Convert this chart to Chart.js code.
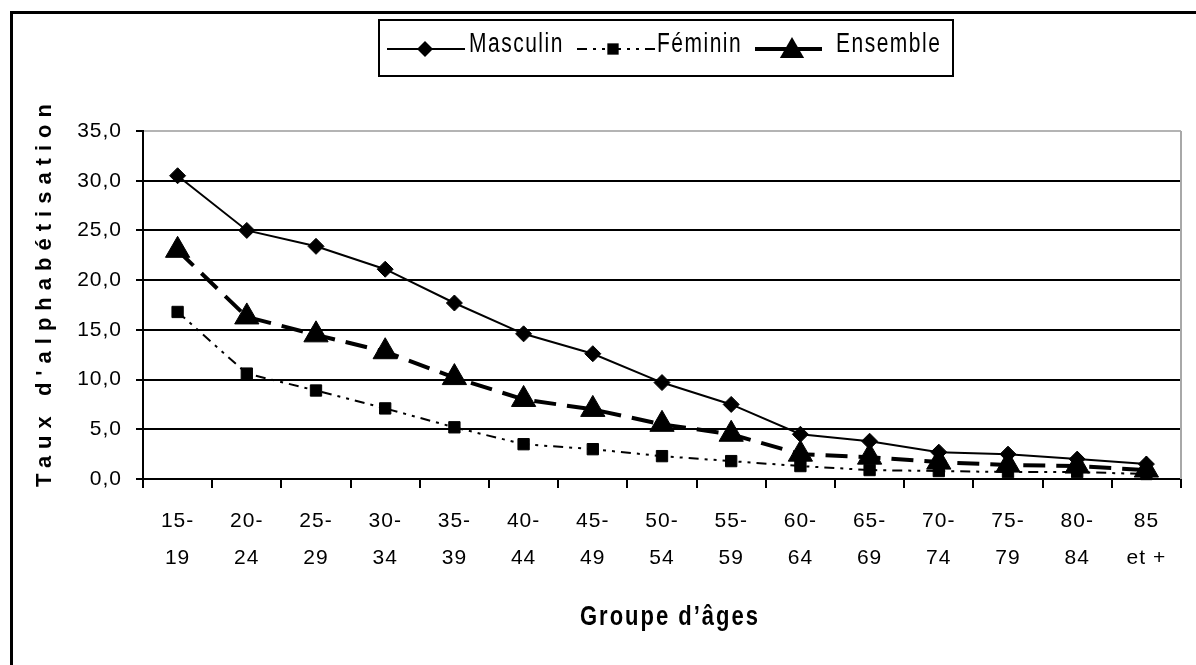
<!DOCTYPE html>
<html>
<head>
<meta charset="utf-8">
<script src="https://cdn.jsdelivr.net/npm/chart.js@4.4.1/dist/chart.umd.min.js"></script>
<style>
  html, body { margin: 0; padding: 0; background: #fff; }
  #wrap { width: 1196px; height: 665px; }
</style>
</head>
<body>
<div id="wrap"><canvas id="chart" width="1196" height="665"></canvas></div>
<script>
// age groups (two-line tick labels)
const ageGroups = [['15-','19'],['20-','24'],['25-','29'],['30-','34'],['35-','39'],['40-','44'],['45-','49'],
                   ['50-','54'],['55-','59'],['60-','64'],['65-','69'],['70-','74'],['75-','79'],['80-','84'],['85','et +']];
const masculin = [30.5, 25.0, 23.4, 21.1, 17.7, 14.6, 12.6, 9.7, 7.5, 4.5, 3.8, 2.7, 2.5, 2.0, 1.5];
const feminin  = [16.8, 10.6, 8.9, 7.1, 5.2, 3.5, 3.0, 2.3, 1.8, 1.3, 0.9, 0.8, 0.7, 0.7, 0.5];
const ensemble = [23.0, 16.3, 14.5, 12.8, 10.2, 8.0, 7.0, 5.5, 4.5, 2.5, 2.2, 1.7, 1.4, 1.3, 0.9];
const yTicks = [0, 5, 10, 15, 20, 25, 30, 35];
const seriesNames = ['Masculin', 'Féminin', 'Ensemble'];
const yTitle = "Taux d'alphabétisation";
const xTitle = "Groupe d’âges";

const font = '"Liberation Sans", Arial, sans-serif';

function marker(ctx, style, r, x, y) {
    ctx.save();
    ctx.fillStyle = '#000';
    ctx.setLineDash([]);
    ctx.beginPath();
    if (style === 'rectRot') {
        ctx.moveTo(x, y - r); ctx.lineTo(x + r, y); ctx.lineTo(x, y + r); ctx.lineTo(x - r, y);
    } else if (style === 'rect') {
        const s = r * Math.SQRT1_2;
        ctx.rect(x - s, y - s, 2 * s, 2 * s);
    } else {
        ctx.moveTo(x, y - r);
        ctx.lineTo(x + r * Math.sin(Math.PI / 3), y + r / 2);
        ctx.lineTo(x - r * Math.sin(Math.PI / 3), y + r / 2);
    }
    ctx.closePath();
    ctx.fill();
    ctx.restore();
}

// text a bit taller than wide, like the scanned original
function tallText(ctx, txt, x, y, sy) {
    ctx.save();
    ctx.translate(x, y);
    ctx.scale(1, sy);
    ctx.fillText(txt, 0, 0);
    ctx.restore();
}

// frame, right border, titles and the boxed legend
const decor = {
    id: 'decor',
    beforeDraw(chart) {
        chart.ctx.letterSpacing = '1px';
    },
    afterDraw(chart) {
        const ctx = chart.ctx;
        const a = chart.chartArea;
        ctx.save();
        // outer frame (runs off the right / bottom)
        ctx.strokeStyle = '#000';
        ctx.lineWidth = 3;
        ctx.strokeRect(11.5, 12.5, 1300, 800);
        // grey right border of plot area
        ctx.strokeStyle = '#a8a8a8';
        ctx.lineWidth = 2;
        ctx.beginPath();
        ctx.moveTo(a.right, a.top);
        ctx.lineTo(a.right, a.bottom);
        ctx.stroke();

        // axis titles
        ctx.fillStyle = '#000';
        ctx.font = 'bold 22px ' + font;
        ctx.letterSpacing = '7px';
        ctx.textAlign = 'center';
        ctx.textBaseline = 'middle';
        ctx.save();
        ctx.translate(45, 292);
        ctx.rotate(-Math.PI / 2);
        ctx.fillText(yTitle, 0, 0);
        ctx.restore();
        ctx.letterSpacing = '2px';
        tallText(ctx, xTitle, (a.left + a.right) / 2 + 8, 617, 1.25);

        // legend
        ctx.strokeStyle = '#000';
        ctx.lineWidth = 2;
        ctx.strokeRect(379, 20, 574, 56);
        const items = [
            {x0: 387, x1: 465, mx: 425, tx: 469},
            {x0: 577, x1: 655, mx: 613, tx: 657},
            {x0: 755, x1: 822, mx: 792, tx: 836}
        ];
        ctx.font = '21px ' + font;
        ctx.letterSpacing = '1.5px';
        ctx.textAlign = 'left';
        chart.data.datasets.forEach((ds, i) => {
            const it = items[i];
            ctx.save();
            ctx.lineWidth = ds.borderWidth;
            ctx.setLineDash(i === 2 ? [] : (ds.borderDash || []));
            ctx.beginPath();
            ctx.moveTo(it.x0, 49);
            ctx.lineTo(it.x1, 49);
            ctx.stroke();
            ctx.restore();
            marker(ctx, ds.pointStyle, ds.pointRadius, it.mx, i === 2 ? 51 : 49);
            tallText(ctx, seriesNames[i], it.tx, 44, 1.3);
        });
        ctx.restore();
    }
};

const ctx = document.getElementById('chart').getContext('2d');
new Chart(ctx, {
    type: 'line',
    data: {
        labels: ageGroups,
        datasets: [
            {
                label: seriesNames[0],
                data: masculin,
                borderColor: '#000',
                backgroundColor: '#000',
                borderWidth: 2,
                pointStyle: 'rectRot',
                pointRadius: 8,
                pointBorderWidth: 1,
                order: 2
            },
            {
                label: seriesNames[1],
                data: feminin,
                borderColor: '#000',
                backgroundColor: '#000',
                borderWidth: 2,
                borderDash: [10, 6, 3, 6, 3, 6],
                pointStyle: 'rect',
                pointRadius: 8,
                pointBorderWidth: 1,
                order: 3
            },
            {
                label: seriesNames[2],
                data: ensemble,
                borderColor: '#000',
                backgroundColor: '#000',
                borderWidth: 4,
                borderDash: [22, 11],
                pointStyle: 'triangle',
                pointRadius: 14,
                pointBorderWidth: 1,
                order: 1
            }
        ]
    },
    options: {
        responsive: false,
        devicePixelRatio: 1,
        animation: false,
        clip: false,
        layout: { padding: { top: 131, right: 3, left: 0, bottom: 0 } },
        elements: { line: { tension: 0, fill: false } },
        plugins: { legend: { display: false }, tooltip: { enabled: false } },
        scales: {
            x: {
                type: 'category',
                offset: true,
                afterFit(scale) { scale.height = 186; },
                grid: { offset: true, drawOnChartArea: false, color: '#000', lineWidth: 2, tickLength: 9 },
                border: { color: '#000', width: 2 },
                ticks: {
                    color: '#000',
                    font: { family: font, size: 21, lineHeight: 1.8 },
                    padding: 14,
                    maxRotation: 0,
                    autoSkip: false
                }
            },
            y: {
                min: 0,
                max: 35,
                afterFit(scale) { scale.width = 143; },
                afterBuildTicks(scale) { scale.ticks = yTicks.map(v => ({ value: v })); },
                grid: {
                    color: (c) => c.tick && c.tick.value === 35 ? '#b4b4b4' : '#000',
                    tickColor: '#000',
                    lineWidth: 2,
                    tickLength: 7
                },
                border: { color: '#000', width: 2 },
                ticks: {
                    color: '#000',
                    font: { family: font, size: 21 },
                    padding: 14,
                    callback: (v) => v.toFixed(1).replace('.', ',')
                }
            }
        }
    },
    plugins: [decor]
});
</script>
</body>
</html>
